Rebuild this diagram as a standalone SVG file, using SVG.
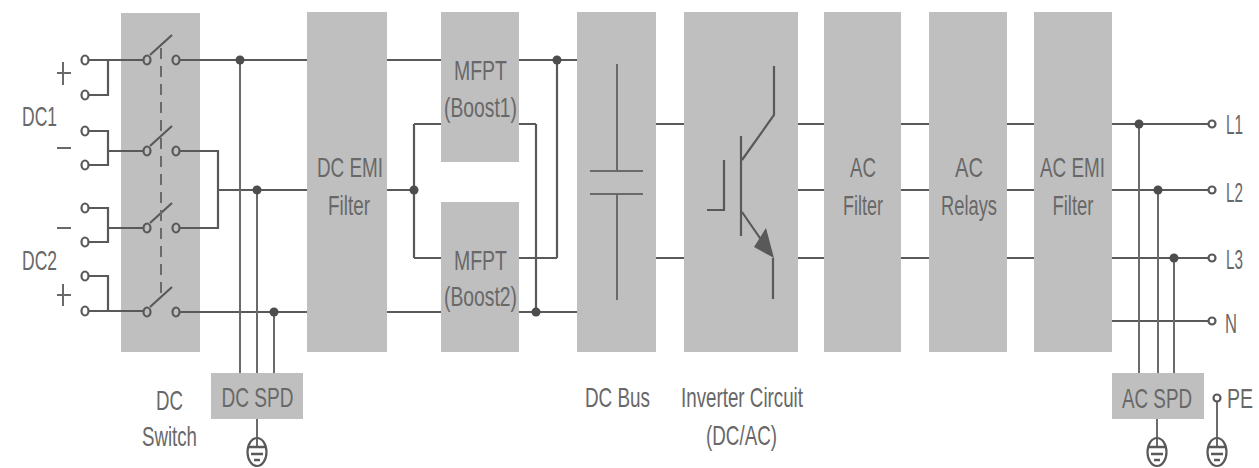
<svg xmlns="http://www.w3.org/2000/svg" width="1259" height="468" viewBox="0 0 1259 468">
<defs>
<style>
.box{fill:#bfbfbf}
.w{stroke:#595959;stroke-width:2.2;fill:none}
.t{stroke:#6a6a6a;stroke-width:2;fill:none}
.oo{stroke:#595959;stroke-width:2.2;fill:none}
.d{fill:#4d4d4d}
text{font-family:"Liberation Sans",Arial,sans-serif;font-size:28px;fill:#686868;text-anchor:middle}
</style>
<g id="sw"><path class="w" d="M3 -5L25 -25"/><ellipse class="oo" cx="0" cy="0" rx="3.5" ry="4.5"/><ellipse class="oo" cx="29" cy="0" rx="3.5" ry="4.5"/></g>
<g id="gnd"><ellipse cx="0" cy="0" rx="9.5" ry="14" fill="none" stroke="#595959" stroke-width="2.2"/><path d="M-9 -5H9M-6 2H6M-3 8H3" stroke="#595959" stroke-width="2.6" fill="none"/></g>
</defs>
<rect width="1259" height="468" fill="#fff"/>
<g id="node-dc-switch"><rect class="box" x="121" y="13" width="79" height="339"/></g>
<g id="node-dc-emi"><rect class="box" x="307" y="12" width="80" height="340"/><text x="350" y="177" textLength="66" lengthAdjust="spacingAndGlyphs">DC EMI</text><text x="349" y="215" textLength="42" lengthAdjust="spacingAndGlyphs">Filter</text></g>
<g id="node-mppt1"><rect class="box" x="441" y="12" width="78" height="150"/><text x="480.500" y="80" textLength="53" lengthAdjust="spacingAndGlyphs">MFPT</text><text x="480.500" y="117" textLength="73" lengthAdjust="spacingAndGlyphs">(Boost1)</text></g>
<g id="node-mppt2"><rect class="box" x="441" y="202" width="78" height="150"/><text x="480.500" y="270" textLength="53" lengthAdjust="spacingAndGlyphs">MFPT</text><text x="480.500" y="306" textLength="73" lengthAdjust="spacingAndGlyphs">(Boost2)</text></g>
<g id="node-dc-bus"><rect class="box" x="577" y="12" width="79" height="340"/></g>
<g id="node-inverter"><rect class="box" x="684" y="12" width="114" height="340"/></g>
<g id="node-ac-filter"><rect class="box" x="824" y="12" width="77" height="340"/><text x="863" y="177" textLength="26" lengthAdjust="spacingAndGlyphs">AC</text><text x="863" y="215" textLength="40" lengthAdjust="spacingAndGlyphs">Filter</text></g>
<g id="node-ac-relays"><rect class="box" x="929" y="12" width="78" height="340"/><text x="969" y="177" textLength="28" lengthAdjust="spacingAndGlyphs">AC</text><text x="969" y="215" textLength="56" lengthAdjust="spacingAndGlyphs">Relays</text></g>
<g id="node-ac-emi"><rect class="box" x="1034" y="12" width="78" height="340"/><text x="1072.500" y="177" textLength="65" lengthAdjust="spacingAndGlyphs">AC EMI</text><text x="1073" y="215" textLength="41" lengthAdjust="spacingAndGlyphs">Filter</text></g>
<g id="node-dc-spd"><rect class="box" x="211" y="373" width="92" height="46"/><text x="257.500" y="407" textLength="72" lengthAdjust="spacingAndGlyphs">DC SPD</text></g>
<g id="node-ac-spd"><rect class="box" x="1112" y="373" width="92" height="46"/><text x="1157" y="408" textLength="70" lengthAdjust="spacingAndGlyphs">AC SPD</text></g>
<g id="connectors">
<path class="w" d="M89 60H143M108 60V95H89M89 131H108V165H89M108 151H143M89 208H108V242H89M108 228H143M89 276H108V311H89M89 311H143"/>
<use href="#sw" x="147" y="60"/><use href="#sw" x="147" y="151"/><use href="#sw" x="147" y="228"/><use href="#sw" x="147" y="312"/>
<path class="t" stroke-dasharray="11 7" d="M161 48V294"/>
<path class="w" d="M180 60H307M180 151H218V228H180M218 190H307M180 312H307"/>
<path class="t" d="M240 60V373M257 190V373M274 312V373M257 419V447"/>
<circle class="d" cx="240" cy="60" r="4.500"/><circle class="d" cx="257" cy="190" r="4.500"/><circle class="d" cx="274" cy="312" r="4.500"/>
<use href="#gnd" x="257" y="452"/>
<path class="w" d="M387 60H441M519 60H577M387 190H414M414 124V258M414 124H441M414 258H441M519 124H536M536 124V312M519 258H557M557 60V258M519 312H577M387 312H441"/>
<circle class="d" cx="414" cy="190" r="4.500"/><circle class="d" cx="557" cy="60" r="4.500"/><circle class="d" cx="536" cy="312" r="4.500"/>
<path class="w" d="M656 124H684M656 258H684M798 124H824M798 190H824M798 258H824M901 124H929M901 190H929M901 258H929M1007 124H1034M1007 190H1034M1007 258H1034"/>
<path class="t" d="M617 64V171M617 193V300M590 171H643M590 194H643"/>
<path class="w" d="M774 66V115L742 160M741 136V236M724 160V210H707M742 212L762 241M773 258V299"/>
<path d="M766 228L774 258L754 247Z" fill="#595959"/>
<path class="w" d="M1112 124H1208M1112 190H1208M1112 258H1208M1112 321H1208"/>
<path class="t" d="M1139 124V373M1158 190V373M1174 258V373M1157 419V447M1217 402V447"/>
<circle class="d" cx="1139" cy="124" r="4.500"/><circle class="d" cx="1158" cy="190" r="4.500"/><circle class="d" cx="1174" cy="258" r="4.500"/>
<circle class="oo" cx="1212" cy="124" r="3.500"/><circle class="oo" cx="1212" cy="190" r="3.500"/><circle class="oo" cx="1212" cy="258" r="3.500"/><circle class="oo" cx="1212" cy="321" r="3.500"/><circle class="oo" cx="1217" cy="398" r="3.500"/>
<use href="#gnd" x="1157" y="452"/><use href="#gnd" x="1217" y="452"/>
<ellipse class="oo" cx="85" cy="60" rx="3.500" ry="4.500"/><ellipse class="oo" cx="85" cy="95" rx="3.500" ry="4.500"/><ellipse class="oo" cx="85" cy="131" rx="3.500" ry="4.500"/><ellipse class="oo" cx="85" cy="165" rx="3.500" ry="4.500"/><ellipse class="oo" cx="85" cy="208" rx="3.500" ry="4.500"/><ellipse class="oo" cx="85" cy="242" rx="3.500" ry="4.500"/><ellipse class="oo" cx="85" cy="276" rx="3.500" ry="4.500"/><ellipse class="oo" cx="85" cy="311" rx="3.500" ry="4.500"/>
</g>
<g id="labels">
<text x="39.500" y="126" textLength="35" lengthAdjust="spacingAndGlyphs">DC1</text>
<text x="39.500" y="270" textLength="35" lengthAdjust="spacingAndGlyphs">DC2</text>
<path class="t" d="M57 73H71M63 62V85M57 148H71M57 228H71M57 295H71M63 284V306"/>
<text x="169.500" y="410" textLength="27" lengthAdjust="spacingAndGlyphs">DC</text>
<text x="169.500" y="446" textLength="55" lengthAdjust="spacingAndGlyphs">Switch</text>
<text x="617.500" y="407" textLength="65" lengthAdjust="spacingAndGlyphs">DC Bus</text>
<text x="742" y="407" textLength="122" lengthAdjust="spacingAndGlyphs">Inverter Circuit</text>
<text x="741.500" y="445" textLength="71" lengthAdjust="spacingAndGlyphs">(DC/AC)</text>
<text x="1234.500" y="134" textLength="17" lengthAdjust="spacingAndGlyphs">L1</text>
<text x="1234.500" y="202" textLength="17" lengthAdjust="spacingAndGlyphs">L2</text>
<text x="1234.500" y="269" textLength="17" lengthAdjust="spacingAndGlyphs">L3</text>
<text x="1231" y="333" textLength="12" lengthAdjust="spacingAndGlyphs">N</text>
<text transform="translate(1240 408) scale(.7 1)">PE</text>
</g>
</svg>
